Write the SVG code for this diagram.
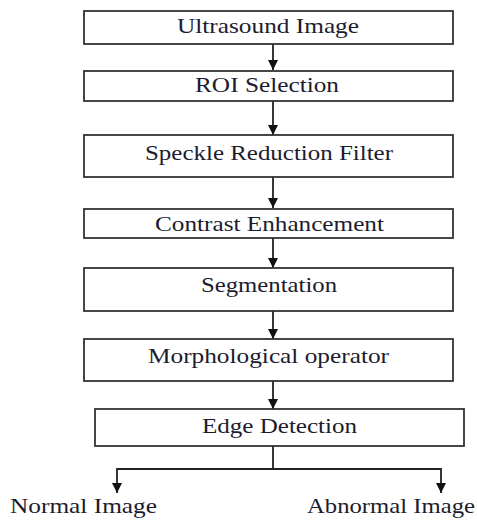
<svg xmlns="http://www.w3.org/2000/svg" width="477" height="520" viewBox="0 0 477 520">
<defs>
<marker id="ah" viewBox="0 0 10 10" refX="10" refY="5" markerWidth="10" markerHeight="10" markerUnits="userSpaceOnUse" orient="auto">
<path d="M0,0 L10,5 L0,10 Z" fill="#111"/>
</marker>
<style>
.box{fill:#fff;stroke:#333;stroke-width:1.8}
.lbl{font-family:"Liberation Serif","Times New Roman",serif;font-size:21px;fill:#1c1c2e}
.con{stroke:#222;stroke-width:1.8;fill:none}
</style>
</defs>
<rect width="477" height="520" fill="#fff"/>
<g id="connectors">
<line class="con" x1="273" y1="44" x2="273" y2="70" marker-end="url(#ah)"/>
<line class="con" x1="273" y1="101" x2="273" y2="135" marker-end="url(#ah)"/>
<line class="con" x1="273" y1="177" x2="273" y2="208" marker-end="url(#ah)"/>
<line class="con" x1="273" y1="238" x2="273" y2="268" marker-end="url(#ah)"/>
<line class="con" x1="273" y1="311" x2="273" y2="339" marker-end="url(#ah)"/>
<line class="con" x1="273" y1="381" x2="273" y2="409" marker-end="url(#ah)"/>
<polyline class="con" points="273,446 273,469 117,469 117,493" marker-end="url(#ah)"/>
<polyline class="con" points="273,469 441,469 441,493" marker-end="url(#ah)"/>
</g>
<g id="n1"><rect class="box" x="84" y="11" width="369" height="33"/><text class="lbl" x="177" y="33" textLength="182" lengthAdjust="spacingAndGlyphs">Ultrasound Image</text></g>
<g id="n2"><rect class="box" x="84" y="71" width="369" height="30"/><text class="lbl" x="195" y="92" textLength="144" lengthAdjust="spacingAndGlyphs">ROI Selection</text></g>
<g id="n3"><rect class="box" x="84" y="135" width="369" height="42"/><text class="lbl" x="145" y="160" textLength="248" lengthAdjust="spacingAndGlyphs">Speckle Reduction Filter</text></g>
<g id="n4"><rect class="box" x="84" y="209" width="369" height="29"/><text class="lbl" x="155" y="231" textLength="229" lengthAdjust="spacingAndGlyphs">Contrast Enhancement</text></g>
<g id="n5"><rect class="box" x="84" y="268" width="369" height="43"/><text class="lbl" x="201" y="292" textLength="136" lengthAdjust="spacingAndGlyphs">Segmentation</text></g>
<g id="n6"><rect class="box" x="84" y="339" width="369" height="42"/><text class="lbl" x="148" y="363" textLength="241" lengthAdjust="spacingAndGlyphs">Morphological operator</text></g>
<g id="n7"><rect class="box" x="95" y="409" width="369" height="37"/><text class="lbl" x="202" y="433" textLength="155" lengthAdjust="spacingAndGlyphs">Edge Detection</text></g>
<g id="n8"><text class="lbl" x="10" y="513" textLength="147" lengthAdjust="spacingAndGlyphs">Normal Image</text></g>
<g id="n9"><text class="lbl" x="307" y="513" textLength="168" lengthAdjust="spacingAndGlyphs">Abnormal Image</text></g>
</svg>
